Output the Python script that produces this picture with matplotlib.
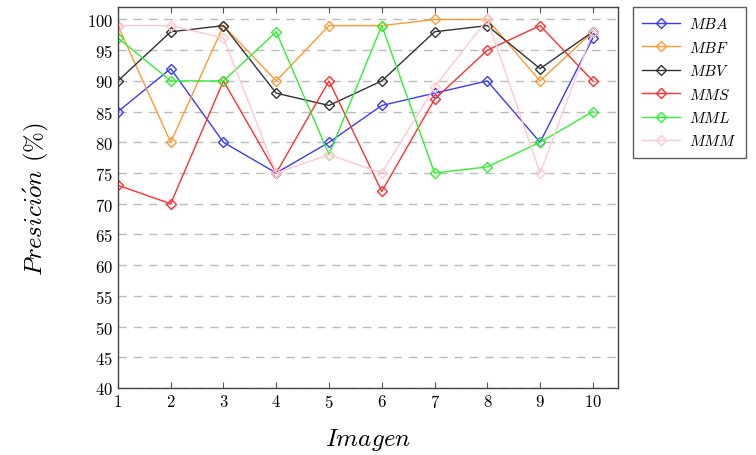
import matplotlib
matplotlib.use("Agg")
import matplotlib.pyplot as plt

plt.rcParams['mathtext.fontset'] = 'cm'
plt.rcParams['font.family'] = ['cmr10', 'DejaVu Serif']
plt.rcParams['axes.formatter.use_mathtext'] = True

images = [1, 2, 3, 4, 5, 6, 7, 8, 9, 10]
mba = [85, 92, 80, 75, 80, 86, 88, 90, 80, 97]
mbf = [99, 80, 99, 90, 99, 99, 100, 100, 90, 98]
mbv = [90, 98, 99, 88, 86, 90, 98, 99, 92, 98]
mms = [73, 70, 90, 75, 90, 72, 87, 95, 99, 90]
mml = [97, 90, 90, 98, 78, 99, 75, 76, 80, 85]
mmm = [99, 99, 97, 75, 78, 75, 89, 100, 75, 98]

series = [
    ("$MBA$", mba, "#3a3aff"),
    ("$MBF$", mbf, "#ff9a33"),
    ("$MBV$", mbv, "#333333"),
    ("$MMS$", mms, "#ff3030"),
    ("$MML$", mml, "#30f030"),
    ("$MMM$", mmm, "#ffc8d0"),
]
y_ticks = list(range(40, 101, 5))

fig = plt.figure(figsize=(7.56, 4.56), dpi=100)
ax = fig.add_axes([0.156, 0.147, 0.661, 0.835])

for label, vals, color in series:
    ax.plot(images, vals, color=color, lw=1.0, marker='D', markersize=5,
            markerfacecolor='none', markeredgecolor=color, markeredgewidth=1.0,
            label=label)

ax.set_xlim(1, 10.47)
ax.set_ylim(40, 102)
ax.set_xticks(images)
ax.set_yticks(y_ticks)
ax.tick_params(axis='both', direction='in', labelsize=12, top=True, length=4,
               color='#555555')
ax.tick_params(axis='y', length=0)
ax.yaxis.grid(True, linestyle=(0, (6, 5)), color='#bbbbbb', lw=1.0)
ax.set_axisbelow(True)
for s in ax.spines.values():
    s.set_color('#444444')
    s.set_linewidth(1.0)

ax.set_xlabel("$Imagen$", fontsize=18, labelpad=12)
ax.set_ylabel(r"$Presici\acute{o}n$ (%)", fontsize=18, labelpad=26)

leg = ax.legend(loc='upper left', bbox_to_anchor=(1.015, 1.02), fontsize=11,
                frameon=True, fancybox=False, edgecolor='#333333',
                handlelength=2.5, handletextpad=0.6, labelspacing=0.55,
                borderpad=0.6)
leg.get_frame().set_linewidth(1.0)

fig.savefig("out.png", dpi=100)
